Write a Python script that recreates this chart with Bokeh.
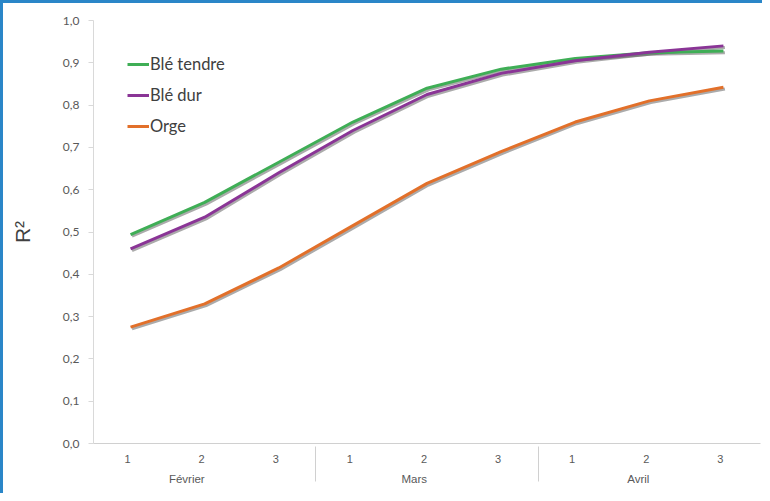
from bokeh.plotting import figure
from bokeh.models import FactorRange, CustomJSTickFormatter, Range1d, Legend, LegendItem, FixedTicker
from bokeh.transform import dodge
from bokeh.embed import file_html
from bokeh.resources import INLINE

months = ["Février", "Mars", "Avril"]
weeks = ["1", "2", "3"]
factors = [(m, w) for m in months for w in weeks]

ble_tendre = [0.494, 0.570, 0.665, 0.760, 0.840, 0.885, 0.910, 0.924, 0.928]
ble_dur = [0.460, 0.535, 0.640, 0.740, 0.825, 0.875, 0.905, 0.925, 0.940]
orge = [0.275, 0.330, 0.415, 0.515, 0.615, 0.690, 0.760, 0.810, 0.842]
y_ticks = [0.0, 0.1, 0.2, 0.3, 0.4, 0.5, 0.6, 0.7, 0.8, 0.9, 1.0]

series = [("Blé tendre", ble_tendre, "#3fae56"),
          ("Blé dur", ble_dur, "#8a3596"),
          ("Orge", orge, "#e2702a")]

p = figure(x_range=FactorRange(*factors, group_padding=0, range_padding=0),
           y_range=Range1d(0, 1.0),
           width=762, height=493, output_backend="svg", toolbar_location=None,
           min_border_left=90, min_border_right=5, min_border_top=17, min_border_bottom=53)
p.styles = {"border-left": "3px solid #2a86c8", "border-top": "3px solid #2a86c8",
            "border-right": "none", "border-bottom": "none"}
p.outline_line_color = None
p.xgrid.grid_line_color = None
p.ygrid.grid_line_color = None

items = []
for name, vals, col in series:
    src = dict(x=factors, y=vals)
    p.line(x=dodge("x", 0.02, range=p.x_range), y=dodge("y", -0.004), source=src,
           line_color="#444444", line_alpha=0.45, line_width=3)
for name, vals, col in series:
    src = dict(x=factors, y=vals)
    r = p.line(x="x", y="y", source=src, line_color=col, line_width=3, line_join="round")
    items.append(LegendItem(label=name, renderers=[r]))

legend = Legend(items=items, location="top_left", margin=34, padding=7,
                background_fill_alpha=0, border_line_color=None,
                label_text_font="Lato", label_text_font_size="16.5px", label_text_color="#404040",
                glyph_width=22, label_standoff=1, spacing=11)
p.add_layout(legend, "center")

p.yaxis.ticker = FixedTicker(ticks=y_ticks)
p.yaxis.formatter = CustomJSTickFormatter(code="return tick.toFixed(1).replace('.', ',');")
p.yaxis.axis_line_color = "#d9d9d9"
p.yaxis.major_tick_line_color = "#d9d9d9"
p.yaxis.major_tick_out = 5
p.yaxis.major_tick_in = 0
p.yaxis.minor_tick_line_color = None
p.yaxis.major_label_standoff = 9
p.yaxis.major_label_text_font = "Lato"
p.yaxis.major_label_text_font_size = "12px"
p.yaxis.major_label_text_color = "#595959"
p.yaxis.axis_label = "R²"
p.yaxis.axis_label_text_font = "Liberation Sans"
p.yaxis.axis_label_text_font_style = "normal"
p.yaxis.axis_label_text_font_size = "21px"
p.yaxis.axis_label_text_color = "#404040"
p.yaxis.axis_label_standoff = 26

p.xaxis.axis_line_color = "#d0d0d0"
p.xaxis.major_tick_line_color = None
p.xaxis.major_label_standoff = 9
p.xaxis.major_label_text_font = "Liberation Sans"
p.xaxis.major_label_text_font_size = "11px"
p.xaxis.major_label_text_color = "#595959"
p.xaxis.major_label_orientation = 0
p.xaxis.group_label_orientation = 0
p.xaxis.group_text_font = "Liberation Sans"
p.xaxis.group_text_font_size = "11.5px"
p.xaxis.group_text_color = "#595959"
p.xaxis.group_text_font_style = "normal"
p.xaxis.separator_line_color = "#d0d0d0"
p.xaxis.separator_line_width = 1

open("out.html", "w").write(file_html(p, INLINE))
